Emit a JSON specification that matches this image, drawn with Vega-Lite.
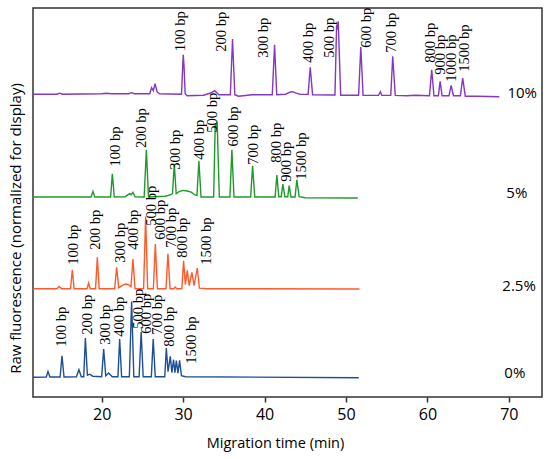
{
  "$schema": "https://vega.github.io/schema/vega-lite/v6.json",
  "width": 509,
  "height": 389,
  "autosize": {"type": "none"},
  "padding": {"left": 33, "top": 8, "right": 8, "bottom": 62},
  "background": "white",
  "config": {
    "view": {"stroke": "#333333", "strokeWidth": 1.5},
    "axis": {"grid": false}
  },
  "datasets": {
    "traces": [
      {"s":"10%","t":11.57,"f":302.8},{"s":"10%","t":14.5,"f":302.8},{"s":"10%","t":14.85,"f":303.8},{"s":"10%","t":15.2,"f":302.8},
      {"s":"10%","t":20.0,"f":303.2},{"s":"10%","t":20.6,"f":303.8},{"s":"10%","t":21.2,"f":303.2},{"s":"10%","t":23.3,"f":303.3},
      {"s":"10%","t":23.68,"f":304.3},{"s":"10%","t":24.0,"f":303.3},{"s":"10%","t":25.9,"f":303.3},{"s":"10%","t":26.13,"f":309.3},
      {"s":"10%","t":26.35,"f":306.3},{"s":"10%","t":26.56,"f":313.3},{"s":"10%","t":26.8,"f":305.3},{"s":"10%","t":27.1,"f":303.3},
      {"s":"10%","t":29.8,"f":302.8},{"s":"10%","t":30.02,"f":342.3},{"s":"10%","t":30.12,"f":330.3},{"s":"10%","t":30.25,"f":303.3},
      {"s":"10%","t":30.5,"f":301.3},{"s":"10%","t":32.5,"f":301.8},{"s":"10%","t":33.4,"f":304.0},{"s":"10%","t":33.87,"f":306.3},
      {"s":"10%","t":34.4,"f":302.3},{"s":"10%","t":35.8,"f":302.3},{"s":"10%","t":36.07,"f":358.0},{"s":"10%","t":36.35,"f":302.3},
      {"s":"10%","t":36.8,"f":300.8},{"s":"10%","t":38.5,"f":302.3},{"s":"10%","t":40.95,"f":302.3},{"s":"10%","t":41.23,"f":352.3},
      {"s":"10%","t":41.5,"f":302.3},{"s":"10%","t":42.6,"f":302.8},{"s":"10%","t":43.1,"f":304.8},{"s":"10%","t":43.44,"f":305.3},
      {"s":"10%","t":43.9,"f":303.8},{"s":"10%","t":44.4,"f":302.6},{"s":"10%","t":45.35,"f":302.6},{"s":"10%","t":45.61,"f":329.6},
      {"s":"10%","t":45.9,"f":302.3},{"s":"10%","t":48.65,"f":302.0},{"s":"10%","t":48.85,"f":372.3},{"s":"10%","t":48.95,"f":367.3},
      {"s":"10%","t":49.05,"f":375.6},{"s":"10%","t":49.35,"f":301.8},{"s":"10%","t":51.55,"f":301.8},{"s":"10%","t":51.82,"f":350.0},
      {"s":"10%","t":52.1,"f":301.6},{"s":"10%","t":54.0,"f":301.6},{"s":"10%","t":54.23,"f":305.3},{"s":"10%","t":54.4,"f":301.6},
      {"s":"10%","t":55.5,"f":301.6},{"s":"10%","t":55.74,"f":340.6},{"s":"10%","t":56.05,"f":301.6},{"s":"10%","t":57.5,"f":301.3},
      {"s":"10%","t":58.5,"f":301.8},{"s":"10%","t":60.25,"f":301.3},{"s":"10%","t":60.53,"f":327.3},{"s":"10%","t":60.8,"f":301.3},
      {"s":"10%","t":61.35,"f":301.3},{"s":"10%","t":61.56,"f":315.6},{"s":"10%","t":61.8,"f":301.3},{"s":"10%","t":62.65,"f":301.3},
      {"s":"10%","t":62.91,"f":311.6},{"s":"10%","t":63.2,"f":301.3},{"s":"10%","t":64.05,"f":301.3},{"s":"10%","t":64.33,"f":319.0},
      {"s":"10%","t":64.65,"f":300.8},{"s":"10%","t":66.0,"f":300.8},{"s":"10%","t":68.83,"f":300.3},

      {"s":"5%","t":11.57,"f":200.0},{"s":"5%","t":18.7,"f":200.0},{"s":"5%","t":18.93,"f":205.6},{"s":"5%","t":19.15,"f":200.0},
      {"s":"5%","t":21.1,"f":200.0},{"s":"5%","t":21.31,"f":223.3},{"s":"5%","t":21.55,"f":200.0},{"s":"5%","t":22.9,"f":200.3},
      {"s":"5%","t":23.44,"f":203.3},{"s":"5%","t":23.62,"f":202.3},{"s":"5%","t":23.84,"f":204.6},{"s":"5%","t":24.1,"f":200.3},
      {"s":"5%","t":25.22,"f":200.0},{"s":"5%","t":25.49,"f":247.3},{"s":"5%","t":25.75,"f":200.0},{"s":"5%","t":27.8,"f":200.8},
      {"s":"5%","t":28.5,"f":202.3},{"s":"5%","t":28.7,"f":203.5},{"s":"5%","t":28.92,"f":233.3},{"s":"5%","t":29.15,"f":203.3},
      {"s":"5%","t":29.5,"f":205.3},{"s":"5%","t":29.97,"f":206.6},{"s":"5%","t":30.5,"f":206.0},{"s":"5%","t":31.0,"f":204.8},
      {"s":"5%","t":31.5,"f":201.8},{"s":"5%","t":31.7,"f":201.5},{"s":"5%","t":31.94,"f":236.3},{"s":"5%","t":32.2,"f":200.0},
      {"s":"5%","t":33.75,"f":200.0},{"s":"5%","t":33.95,"f":273.3},{"s":"5%","t":34.06,"f":267.3},{"s":"5%","t":34.18,"f":275.6},
      {"s":"5%","t":34.45,"f":200.0},{"s":"5%","t":35.75,"f":200.0},{"s":"5%","t":35.99,"f":247.3},{"s":"5%","t":36.25,"f":200.0},
      {"s":"5%","t":38.3,"f":200.0},{"s":"5%","t":38.53,"f":231.3},{"s":"5%","t":38.8,"f":200.0},{"s":"5%","t":41.3,"f":200.0},
      {"s":"5%","t":41.51,"f":222.0},{"s":"5%","t":41.75,"f":200.3},{"s":"5%","t":42.05,"f":200.3},{"s":"5%","t":42.25,"f":213.0},
      {"s":"5%","t":42.5,"f":200.3},{"s":"5%","t":42.85,"f":200.3},{"s":"5%","t":43.03,"f":211.3},{"s":"5%","t":43.25,"f":200.0},
      {"s":"5%","t":43.75,"f":200.0},{"s":"5%","t":43.96,"f":217.3},{"s":"5%","t":44.25,"f":200.3},{"s":"5%","t":45.0,"f":199.3},
      {"s":"5%","t":51.45,"f":199.0},

      {"s":"2.5%","t":11.57,"f":108.3},{"s":"2.5%","t":14.5,"f":108.3},{"s":"2.5%","t":14.77,"f":110.6},{"s":"2.5%","t":15.1,"f":108.3},
      {"s":"2.5%","t":16.18,"f":108.3},{"s":"2.5%","t":16.4,"f":127.3},{"s":"2.5%","t":16.62,"f":108.3},{"s":"2.5%","t":18.2,"f":108.3},
      {"s":"2.5%","t":18.4,"f":114.0},{"s":"2.5%","t":18.6,"f":108.3},{"s":"2.5%","t":19.25,"f":108.3},{"s":"2.5%","t":19.47,"f":139.6},
      {"s":"2.5%","t":19.7,"f":108.3},{"s":"2.5%","t":21.6,"f":108.3},{"s":"2.5%","t":21.84,"f":129.6},{"s":"2.5%","t":22.1,"f":109.3},
      {"s":"2.5%","t":22.7,"f":112.3},{"s":"2.5%","t":23.0,"f":113.0},{"s":"2.5%","t":23.3,"f":112.3},{"s":"2.5%","t":23.6,"f":110.3},
      {"s":"2.5%","t":23.84,"f":138.0},{"s":"2.5%","t":24.1,"f":108.3},{"s":"2.5%","t":25.15,"f":108.3},{"s":"2.5%","t":25.4,"f":180.6},
      {"s":"2.5%","t":25.65,"f":108.3},{"s":"2.5%","t":26.35,"f":108.3},{"s":"2.5%","t":26.59,"f":153.0},{"s":"2.5%","t":26.85,"f":108.3},
      {"s":"2.5%","t":27.9,"f":108.3},{"s":"2.5%","t":28.14,"f":143.3},{"s":"2.5%","t":28.4,"f":108.3},{"s":"2.5%","t":28.85,"f":108.3},
      {"s":"2.5%","t":29.04,"f":110.0},{"s":"2.5%","t":29.2,"f":108.3},{"s":"2.5%","t":29.85,"f":108.3},{"s":"2.5%","t":30.06,"f":136.3},
      {"s":"2.5%","t":30.28,"f":112.3},{"s":"2.5%","t":30.51,"f":126.6},{"s":"2.5%","t":30.75,"f":111.3},{"s":"2.5%","t":31.08,"f":124.6},
      {"s":"2.5%","t":31.35,"f":111.3},{"s":"2.5%","t":31.74,"f":129.0},{"s":"2.5%","t":32.0,"f":108.8},{"s":"2.5%","t":33.0,"f":108.3},
      {"s":"2.5%","t":51.66,"f":108.0},

      {"s":"0%","t":11.57,"f":19.8},{"s":"0%","t":13.2,"f":20.0},{"s":"0%","t":13.41,"f":25.6},{"s":"0%","t":13.65,"f":20.0},
      {"s":"0%","t":14.9,"f":20.0},{"s":"0%","t":15.13,"f":41.3},{"s":"0%","t":15.38,"f":20.0},{"s":"0%","t":16.9,"f":20.3},
      {"s":"0%","t":17.21,"f":27.3},{"s":"0%","t":17.5,"f":20.3},{"s":"0%","t":17.8,"f":20.3},{"s":"0%","t":18.0,"f":59.0},
      {"s":"0%","t":18.25,"f":21.8},{"s":"0%","t":18.53,"f":22.8},{"s":"0%","t":18.9,"f":20.8},{"s":"0%","t":20.0,"f":20.3},
      {"s":"0%","t":20.25,"f":48.0},{"s":"0%","t":20.5,"f":21.3},{"s":"0%","t":20.86,"f":24.0},{"s":"0%","t":21.3,"f":20.3},
      {"s":"0%","t":22.0,"f":20.3},{"s":"0%","t":22.21,"f":58.0},{"s":"0%","t":22.45,"f":20.3},{"s":"0%","t":23.4,"f":20.3},
      {"s":"0%","t":23.68,"f":95.6},{"s":"0%","t":23.95,"f":20.3},{"s":"0%","t":24.6,"f":20.3},{"s":"0%","t":24.85,"f":65.0},
      {"s":"0%","t":25.1,"f":20.3},{"s":"0%","t":26.1,"f":20.3},{"s":"0%","t":26.33,"f":58.0},{"s":"0%","t":26.58,"f":20.3},
      {"s":"0%","t":27.75,"f":20.3},{"s":"0%","t":27.94,"f":49.0},{"s":"0%","t":28.15,"f":25.3},{"s":"0%","t":28.43,"f":40.6},
      {"s":"0%","t":28.62,"f":24.3},{"s":"0%","t":28.83,"f":37.3},{"s":"0%","t":29.0,"f":24.3},{"s":"0%","t":29.17,"f":36.3},
      {"s":"0%","t":29.37,"f":23.8},{"s":"0%","t":29.57,"f":36.6},{"s":"0%","t":29.8,"f":21.3},{"s":"0%","t":30.3,"f":20.3},
      {"s":"0%","t":51.57,"f":19.3}
    ],
    "peaks": [
      {"label":"100 bp","t":29.78,"f":345.8},{"label":"200 bp","t":34.79,"f":345.3},{"label":"300 bp","t":39.88,"f":339.3},
      {"label":"400 bp","t":45.52,"f":334.3},{"label":"500 bp","t":47.98,"f":339.3},{"label":"600 bp","t":52.58,"f":349.3},
      {"label":"700 bp","t":55.71,"f":344.3},{"label":"800 bp","t":60.49,"f":334.3},{"label":"900 bp","t":61.66,"f":322.3},
      {"label":"1000 bp","t":63.07,"f":315.3},{"label":"1500 bp","t":64.66,"f":325.3},

      {"label":"100 bp","t":21.78,"f":230.6},{"label":"200 bp","t":24.97,"f":249.0},{"label":"300 bp","t":29.08,"f":227.3},
      {"label":"400 bp","t":32.09,"f":237.3},{"label":"500 bp","t":33.68,"f":264.3},{"label":"600 bp","t":36.26,"f":250.6},
      {"label":"700 bp","t":38.65,"f":232.3},{"label":"800 bp","t":41.47,"f":234.3},{"label":"900 bp","t":42.76,"f":215.3},
      {"label":"1500 bp","t":44.66,"f":217.3},

      {"label":"100 bp","t":16.63,"f":132.3},{"label":"200 bp","t":19.35,"f":147.3},{"label":"300 bp","t":22.33,"f":134.3},
      {"label":"400 bp","t":23.93,"f":147.3},{"label":"500 bp","t":26.2,"f":171.3},{"label":"600 bp","t":27.28,"f":157.3},
      {"label":"700 bp","t":28.65,"f":149.3},{"label":"800 bp","t":29.94,"f":139.3},{"label":"1500 bp","t":32.94,"f":132.3},

      {"label":"100 bp","t":15.19,"f":50.3},{"label":"200 bp","t":18.37,"f":62.3},{"label":"300 bp","t":20.58,"f":52.3},
      {"label":"400 bp","t":22.27,"f":60.3},{"label":"500 bp","t":24.6,"f":68.3},{"label":"600 bp","t":25.52,"f":63.3},
      {"label":"700 bp","t":26.93,"f":62.3},{"label":"800 bp","t":28.4,"f":50.3},{"label":"1500 bp","t":31.04,"f":33.3}
    ],
    "series": [
      {"label":"10%","t":69.82,"f":304.3},
      {"label":"5%","t":69.69,"f":204.3},
      {"label":"2.5%","t":69.2,"f":111.3},
      {"label":"0%","t":69.45,"f":24.3}
    ]
  },
  "encoding": {
    "x": {
      "field": "t",
      "type": "quantitative",
      "scale": {"domain": [11.57, 74.07], "nice": false, "zero": false},
      "axis": {
        "values": [20, 30, 40, 50, 60, 70],
        "domain": false,
        "tickSize": 5,
        "tickWidth": 1.5,
        "tickColor": "#333333",
        "labelFont": "Open Sans",
        "labelFontSize": 16,
        "labelColor": "#000000",
        "labelPadding": 4,
        "title": "Migration time (min)",
        "titleFont": "Open Sans",
        "titleFontSize": 14.5,
        "titleFontWeight": "normal",
        "titleColor": "#000000",
        "titleX": 242,
        "titleY": 46,
        "titleBaseline": "middle"
      }
    },
    "y": {
      "field": "f",
      "type": "quantitative",
      "scale": {"domain": [0, 389], "nice": false, "zero": false},
      "axis": {
        "domain": false,
        "ticks": false,
        "labels": false,
        "title": "Raw fluorescence (normalized for display)",
        "titleFont": "Open Sans",
        "titleFontSize": 15,
        "titleFontWeight": "normal",
        "titleColor": "#000000",
        "titleAngle": 270,
        "titleX": -18,
        "titleY": 220,
        "titleBaseline": "middle",
        "titleAlign": "center"
      }
    }
  },
  "layer": [
    {
      "data": {"name": "traces"},
      "mark": {"type": "line", "strokeWidth": 1.4, "interpolate": "linear"},
      "encoding": {
        "color": {
          "field": "s",
          "type": "nominal",
          "scale": {"domain": ["10%", "5%", "2.5%", "0%"], "range": ["#8436c4", "#1f9a2a", "#ff5a2a", "#1d4f99"]},
          "legend": null
        }
      }
    },
    {
      "data": {"name": "peaks"},
      "mark": {"type": "text", "angle": 270, "align": "left", "baseline": "middle", "font": "Liberation Serif", "fontSize": 14.5, "color": "#000000"},
      "encoding": {"text": {"field": "label", "type": "nominal"}}
    },
    {
      "data": {"name": "series"},
      "mark": {"type": "text", "align": "left", "baseline": "middle", "font": "Open Sans", "fontSize": 15, "color": "#000000"},
      "encoding": {"text": {"field": "label", "type": "nominal"}}
    }
  ]
}
